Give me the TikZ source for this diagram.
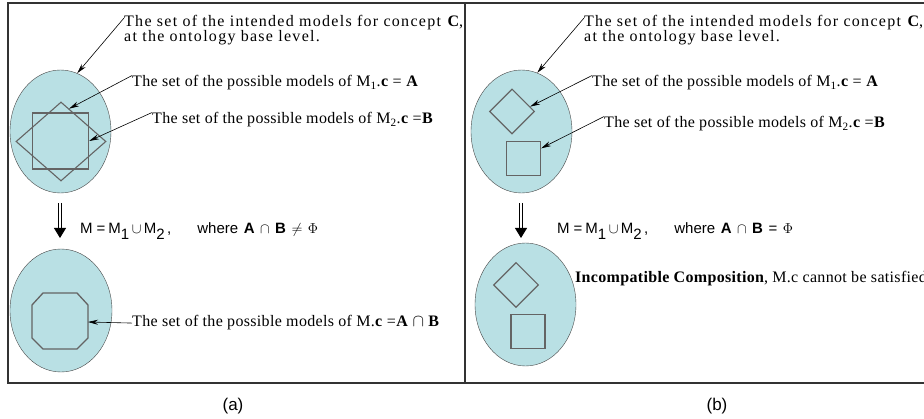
\documentclass[tikz,border=0pt]{standalone}
\usepackage{fontspec}
\setmainfont{Liberation Serif}
\setsansfont{Liberation Sans}
\newfontfamily\notefont{Liberation Serif}[LetterSpace=2]
\newfontfamily\widenotefont{Liberation Serif}[LetterSpace=8]
\usetikzlibrary{shapes.geometric, arrows, arrows.meta, positioning, calc}
\definecolor{setfill}{RGB}{185,224,228}
\definecolor{setedge}{RGB}{70,70,70}
\definecolor{shapegray}{RGB}{100,100,100}
\tikzset{
  universe/.style={
    ellipse,
    draw=setedge,
    fill=setfill,
    inner sep=0pt,
    minimum width=101,
    minimum height=123
  },
  modelbox/.style={
    rectangle,
    draw=shapegray,
    line width=1.3pt,
    inner sep=0pt
  },
  modeldiamond/.style={
    diamond,
    draw=shapegray,
    line width=1.1pt,
    inner sep=0pt
  },
  note/.style={
    anchor=base west,
    inner sep=0pt,
    font=\fontsize{16}{15}\notefont
  },
  widenote/.style={
    anchor=north west,
    align=left,
    inner sep=0pt,
    font=\fontsize{16}{15}\widenotefont
  },
  formula/.style={
    anchor=base west,
    inner sep=0pt,
    font=\fontsize{15}{17}\sffamily
  },
  caption/.style={
    font=\fontsize{17}{19}\sffamily
  },
  frame/.style={
    draw=black!80,
    line width=1.2pt
  },
  pointer/.style={
    -{Stealth[length=10pt,width=5pt]},
    line width=0.6pt
  },
  implies/.style={
    double,
    double distance=2.4pt,
    line width=0.9pt,
    -{Triangle[length=10pt,width=12pt]}
  }
}
\newcommand{\lowsub}[1]{\raisebox{-6pt}{#1}}
\newcommand{\gap}{\hspace{5.5pt}}
\newcommand{\unionline}{M\hspace{4pt}=\hspace{3pt}M\lowsub{1}\,$\cup$\,M\lowsub{2}\,,\hspace{26pt}where\gap}

\begin{document}
\begin{tikzpicture}[x=1pt, y=-1pt]
  \useasboundingbox (0,0) rectangle (924,419);
  \clip (0,0) rectangle (924,419);

  % Frames
  \draw[frame] (8,3) rectangle (465,383);
  \draw[frame] (465,3) -- (940,3) (465,383) -- (940,383);

  % (a) compatible composition
  \node (Ua) [universe] at (60.5,131.5) {};
  \node (Aa) [modeldiamond, minimum width=90, minimum height=79] at (61,141.5) {};
  \node (Ba) [modelbox, minimum size=56] at (60.5,141) {};

  \node (Ta) [widenote] at (124,15) {The set of the intended models for concept \textbf{C},\\at the ontology base level.};
  \node (Pa) [note] at (132,87) {The set of the possible models of M\textsubscript{1}.\textbf{c} = \textbf{A}};
  \node (Qa) [note] at (152,124) {The set of the possible models of M\textsubscript{2}.\textbf{c} =\textbf{B}};

  \draw[pointer] ([yshift=-3pt]Ta.north west) -- (Ua.74);
  \draw[pointer] (Pa.north west) -- (Aa.76);
  \draw[pointer] (Qa.north west) -- (Ba.east);

  \coordinate (Sa) at (60,203);
  \coordinate (Ea) at (60,238);
  \draw[implies] (Sa) -- (Ea);
  \node (Fa) [formula] at (80,234) {\unionline\textbf{A}\gap$\cap$\gap\textbf{B}\gap$\neq$\gap$\Phi$};

  \node (Va) [universe, minimum width=102] at (61,310.5) {};
  \draw[draw=shapegray, line width=1.3pt] (43,293) -- (77,293) -- (88,305) -- (88,338) -- (77,349) -- (43,349) -- (32,338) -- (32,305) -- cycle;
  \coordinate (Oa) at (88,322);
  \node (Ra) [note] at (132,327) {The set of the possible models of M.\textbf{c} =\textbf{A} $\cap$ \textbf{B}};
  \draw[pointer] (Ra.west) -- (Oa);

  \node (La) [caption] at (233,406) {(a)};

  % (b) incompatible composition
  \node (Ub) [universe] at (521.5,131.5) {};
  \node (Ab) [modeldiamond, minimum size=45] at (512,111.5) {};
  \node (Bb) [modelbox, minimum size=34] at (523.5,158.5) {};

  \node (Tb) [widenote] at (584,15) {The set of the intended models for concept \textbf{C},\\at the ontology base level.};
  \node (Pb) [note] at (592,87) {The set of the possible models of M\textsubscript{1}.\textbf{c} = \textbf{A}};
  \node (Qb) [note] at (604,128) {The set of the possible models of M\textsubscript{2}.\textbf{c} =\textbf{B}};

  \draw[pointer] ([yshift=-3pt]Tb.north west) -- (Ub.75);
  \draw[pointer] (Pb.north west) -- (Ab.15);
  \draw[pointer] (Qb.north west) -- (Bb.30);

  \coordinate (Sb) at (521,203);
  \coordinate (Eb) at (521,238);
  \draw[implies] (Sb) -- (Eb);
  \node (Fb) [formula] at (557,234) {\unionline\textbf{A}\gap$\cap$\gap\textbf{B}\gap=\gap$\Phi$};

  \node (Vb) [universe] at (525.5,304.5) {};
  \node (Cb) [modeldiamond, minimum size=45] at (516,285) {};
  \node (Db) [modelbox, minimum size=34] at (528,331.5) {};
  \node (Rb) [note] at (575,283) {\textbf{Incompatible Composition}, M.c cannot be satisfied};

  \node (Lb) [caption] at (717,406) {(b)};
\end{tikzpicture}
\end{document}
